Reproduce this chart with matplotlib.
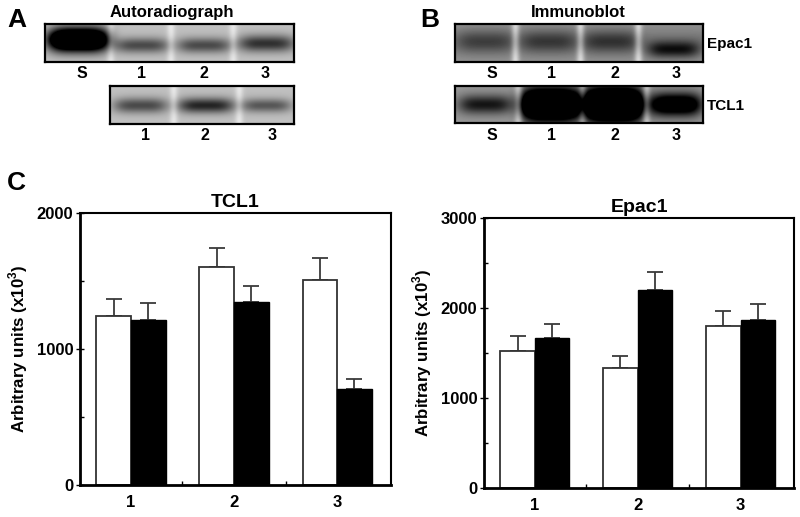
import numpy as np
import matplotlib
matplotlib.use("Agg")
import matplotlib.pyplot as plt

plt.rcParams['font.family'] = ['Liberation Sans', 'DejaVu Sans']
plt.rcParams['font.weight'] = 'bold'
plt.rcParams['mathtext.fontset'] = 'custom'
plt.rcParams['mathtext.rm'] = 'Liberation Sans'
plt.rcParams['mathtext.bf'] = 'Liberation Sans:bold'

# ---------------- data ----------------
groups = ['1', '2', '3']
tcl1_white = [1240, 1600, 1510]
tcl1_white_err = [125, 140, 160]
tcl1_black = [1215, 1345, 705]
tcl1_black_err = [125, 120, 78]

epac_white = [1525, 1335, 1800]
epac_white_err = [165, 130, 167]
epac_black = [1665, 2200, 1865]
epac_black_err = [160, 200, 185]

# blot lane labels and band darkness (0 = none, 1 = saturated)
lanes_A1 = ['S', '1', '2', '3']
band_A1 = [1.6, 0.45, 0.45, 0.55]
lanes_A2 = ['1', '2', '3']
band_A2 = [0.45, 0.6, 0.4]
lanes_B = ['S', '1', '2', '3']
band_B1 = [0.22, 0.25, 0.27, 0.45]
band_B2 = [0.5, 1.6, 1.7, 0.9]

W, H = 800, 517
fig = plt.figure(figsize=(8.0, 5.17), dpi=100)


def fx(px):
    return px / W


def fy(py):
    return 1 - py / H


def make_blot(wpx, hpx, centers, strengths, widths, ypos, ysig, gaps, bg, gap_light, bg_band=None):
    x = np.arange(wpx)[None, :].astype(float)
    y = np.arange(hpx)[:, None].astype(float) / hpx
    img = np.full((hpx, wpx), bg)
    if bg_band is not None:
        img = img - bg_band * np.exp(-((y - 0.45) / 0.35) ** 2)
    for c, s, w, yp, ys in zip(centers, strengths, widths, ypos, ysig):
        img = img - s * np.exp(-(np.abs(x - c) / w) ** 4) * np.exp(-((y - yp) / ys) ** 2)
    for g in gaps:
        img = img + gap_light * np.exp(-((x - g) / 4.0) ** 2)
    img = img - 0.04 * np.exp(-((y - 0.5) / 0.6) ** 2)
    return np.clip(img, 0, 1)


def blot_axes(left, top, right, bottom, img):
    ax = fig.add_axes([fx(left), fy(bottom), fx(right - left), (bottom - top) / H])
    ax.imshow(img, cmap='gray', vmin=0, vmax=1, aspect='auto', interpolation='bilinear')
    ax.set_xticks([])
    ax.set_yticks([])
    for s in ax.spines.values():
        s.set_linewidth(1.6)
        s.set_color('black')
    return ax


# ---------------- panel A ----------------
fig.text(fx(7), fy(27), 'A', fontsize=19, fontweight='bold', ha='left', va='baseline')
fig.text(fx(172), fy(17), 'Autoradiograph', fontsize=12, fontweight='bold', ha='center', va='baseline')

img = make_blot(249, 38, [33, 96, 158, 220], band_A1, [30, 27, 27, 28],
                [0.4, 0.55, 0.55, 0.5], [0.3, 0.2, 0.2, 0.22], [65, 125, 187], 0.78, 0.15)
blot_axes(45, 24, 294, 62, img)
for lab, xp in zip(lanes_A1, [82, 141, 204, 265]):
    fig.text(fx(xp), fy(78), lab, fontsize=11.5, fontweight='bold', ha='center', va='baseline')

img = make_blot(184, 38, [30, 95, 155], band_A2, [27, 28, 25],
                [0.5, 0.5, 0.5], [0.2, 0.2, 0.18], [63, 128], 0.78, 0.15)
blot_axes(110, 86, 294, 124, img)
for lab, xp in zip(lanes_A2, [146, 205, 272]):
    fig.text(fx(xp), fy(140), lab, fontsize=11.5, fontweight='bold', ha='center', va='baseline')

# ---------------- panel B ----------------
fig.text(fx(420), fy(27), 'B', fontsize=19, fontweight='bold', ha='left', va='baseline')
fig.text(fx(578), fy(17), 'Immunoblot', fontsize=12, fontweight='bold', ha='center', va='baseline')

img = make_blot(248, 38, [30, 93, 155, 218], band_B1, [28, 28, 28, 26],
                [0.45, 0.45, 0.45, 0.66], [0.3, 0.3, 0.3, 0.22], [60, 125, 183], 0.6, 0.3,
                bg_band=0.1)
blot_axes(455, 24, 703, 62, img)
fig.text(fx(707), fy(48), 'Epac1', fontsize=11, fontweight='bold', ha='left', va='baseline')
for lab, xp in zip(lanes_B, [492, 552, 615, 676]):
    fig.text(fx(xp), fy(78), lab, fontsize=11.5, fontweight='bold', ha='center', va='baseline')

img = make_blot(248, 37, [30, 95, 158, 220], band_B2, [27, 30, 30, 26],
                [0.5, 0.5, 0.5, 0.5], [0.25, 0.4, 0.42, 0.3], [63, 127, 191], 0.62, 0.3)
blot_axes(455, 86, 703, 123, img)
fig.text(fx(707), fy(110), 'TCL1', fontsize=11, fontweight='bold', ha='left', va='baseline')
for lab, xp in zip(lanes_B, [492, 552, 615, 676]):
    fig.text(fx(xp), fy(140), lab, fontsize=11.5, fontweight='bold', ha='center', va='baseline')

# ---------------- panel C ----------------
fig.text(fx(7), fy(190), 'C', fontsize=19, fontweight='bold', ha='left', va='baseline')


def bar_panel(rect, white, werr, black, berr, ymax, title, xlim):
    ax = fig.add_axes(rect)
    x = np.arange(1, len(groups) + 1)
    bw = 0.335
    ax.errorbar(x - bw / 2, white, yerr=[np.zeros(len(werr)), werr], fmt='none',
                ecolor='#3a3a3a', elinewidth=1.3, capsize=6, capthick=1.3, zorder=1)
    ax.errorbar(x + bw / 2, black, yerr=[np.zeros(len(berr)), berr], fmt='none',
                ecolor='#3a3a3a', elinewidth=1.3, capsize=6, capthick=1.3, zorder=1)
    ax.bar(x - bw / 2, white, width=bw, color='white', edgecolor='#333333', linewidth=1.3, zorder=2)
    ax.bar(x + bw / 2, black, width=bw, color='black', edgecolor='black', linewidth=1.0, zorder=2)
    ax.set_xlim(*xlim)
    ax.set_ylim(0, ymax)
    ax.set_yticks(np.arange(0, ymax + 1, 1000))
    ax.set_yticks(np.arange(500, ymax, 1000), minor=True)
    ax.set_xticks(x)
    ax.set_xticklabels(groups)
    ax.set_xticks(x[:-1] + 0.5, minor=True)
    ax.tick_params(axis='y', which='major', direction='inout', length=5.5, width=1.0, pad=2,
                   labelsize=12)
    ax.tick_params(axis='y', which='minor', direction='in', length=3, width=1.0)
    ax.tick_params(axis='x', which='major', length=0, pad=7, labelsize=12)
    ax.tick_params(axis='x', which='minor', direction='in', length=3, width=1.0)
    for lab in ax.get_xticklabels() + ax.get_yticklabels():
        lab.set_fontweight('bold')
    ax.spines['left'].set_linewidth(2.0)
    ax.spines['bottom'].set_linewidth(2.0)
    ax.spines['top'].set_linewidth(1.5)
    ax.spines['right'].set_linewidth(1.5)
    ax.set_title(title, fontsize=14, fontweight='bold', pad=4)
    ax.set_ylabel(r'Arbitrary units (x10$^{3}$)', fontsize=12.2, fontweight='bold', labelpad=5)
    return ax


ax1 = bar_panel([fx(80), fy(485), fx(311), 272 / H], tcl1_white, tcl1_white_err,
                tcl1_black, tcl1_black_err, 2000, 'TCL1', (0.505, 3.524))
ax2 = bar_panel([fx(484), fy(488), fx(310), 270 / H], epac_white, epac_white_err,
                epac_black, epac_black_err, 3000, 'Epac1', (0.507, 3.518))

fig.savefig('out.png', dpi=100)
